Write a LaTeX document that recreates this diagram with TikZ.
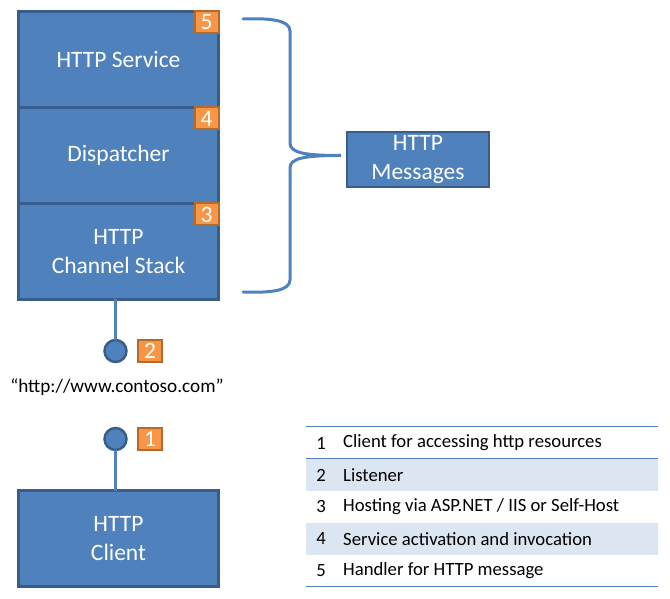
\documentclass[tikz,border=0pt]{standalone}
\usepackage{fontspec}
\setmainfont{Carlito}
\usetikzlibrary{positioning}
\definecolor{stackblue}{RGB}{79,129,189}
\definecolor{edgeblue}{RGB}{56,93,138}
\definecolor{badgefill}{RGB}{247,150,70}
\definecolor{badgeedge}{RGB}{182,105,45}
\definecolor{rowshade}{RGB}{220,230,242}

\begin{document}
\begin{tikzpicture}[x=1pt,y=1pt]
    \pgfmathsetmacro{\boxw}{200}
    \pgfmathsetmacro{\boxh}{96}
    \tikzset{
      layer/.style={draw=edgeblue,fill=stackblue,line width=3pt,outer sep=0pt,inner sep=0pt,
        minimum width=\boxw pt,minimum height=\boxh pt,text=white,align=center,
        font=\fontsize{23.5}{29}\selectfont},
      badge/.style={draw=badgeedge,fill=badgefill,line width=2pt,outer sep=0pt,inner sep=0pt,
        minimum width=24pt,minimum height=22pt,text=white,font=\fontsize{23.5}{29}\selectfont},
      port/.style={circle,draw=edgeblue,fill=stackblue,line width=2.5pt,outer sep=0pt,
        inner sep=0pt,minimum size=22pt},
      wire/.style={draw=stackblue,line width=3pt},
      brace/.style={draw=stackblue,line width=3pt,line cap=round},
      rule/.style={draw=stackblue,line width=1pt},
      rowtext/.style={inner sep=0pt,font=\fontsize{18.7}{22}\selectfont}
    }
    \useasboundingbox (0,0) rectangle (670,599);
    \node[layer] (service) at (118.5,539.5) {HTTP Service};
    \node[layer,below=0pt of service] (dispatcher) {Dispatcher};
    \node[layer,below=0pt of dispatcher] (channel) {HTTP\\Channel Stack};
    \node[badge,anchor=north east] (b5) at (service.north east) {5};
    \node[badge,anchor=north east] (b4) at (dispatcher.north east) {4};
    \node[badge,anchor=north east] (b3) at (channel.north east) {3};
    \node[port] (p2) at (115.5,248) {};
    \node[badge,right=11.5pt of p2] (b2) {2};
    \node[font=\fontsize{19.2}{23}\selectfont] (url) at (117,212) {“http://www.contoso.com”};
    \node[port] (p1) at (115.5,160) {};
    \node[badge,right=11.5pt of p1] (b1) {1};
    \node[layer] (client) at (118.5,60) {HTTP\\Client};
    \draw[wire] (p2 |- channel.south) -- (p2);
    \draw[wire] (p1) -- (p1 |- client.north);
    \node[layer,minimum width=142pt,minimum height=55pt,line width=2.5pt] (msgs) at (418,439.5) {HTTP\\Messages};
    \coordinate (tip) at ([xshift=-6pt]msgs.west |- dispatcher.center);
    \draw[brace] (243,580) .. controls (270,581) and (290,579) .. (290,568) -- (290,456)
      .. controls (290,446) and (305,443.5) .. (tip)
      .. controls (305,443.5) and (290,441) .. (290,431) -- (290,319)
      .. controls (290,308) and (270,306) .. (243,307);
    \fill[rowshade] (306,108) rectangle (658,140);
    \fill[rowshade] (306,44) rectangle (658,76);
    \draw[rule] (306,172) -- (658,172);
    \draw[rule] (306,140) -- (658,140);
    \draw[rule] (306,12) -- (658,12);
    \foreach \i/\txt in {1/Client for accessing http resources,2/Listener,
        3/{Hosting via ASP.NET / IIS or Self-Host},4/Service activation and invocation,
        5/Handler for HTTP message}
    {
      \node[rowtext] (num\i) at (321,188-32*\i) {\i};
      \node[rowtext,anchor=west] (row\i) at (343,188-32*\i) {\txt};
    }
\end{tikzpicture}
\end{document}
